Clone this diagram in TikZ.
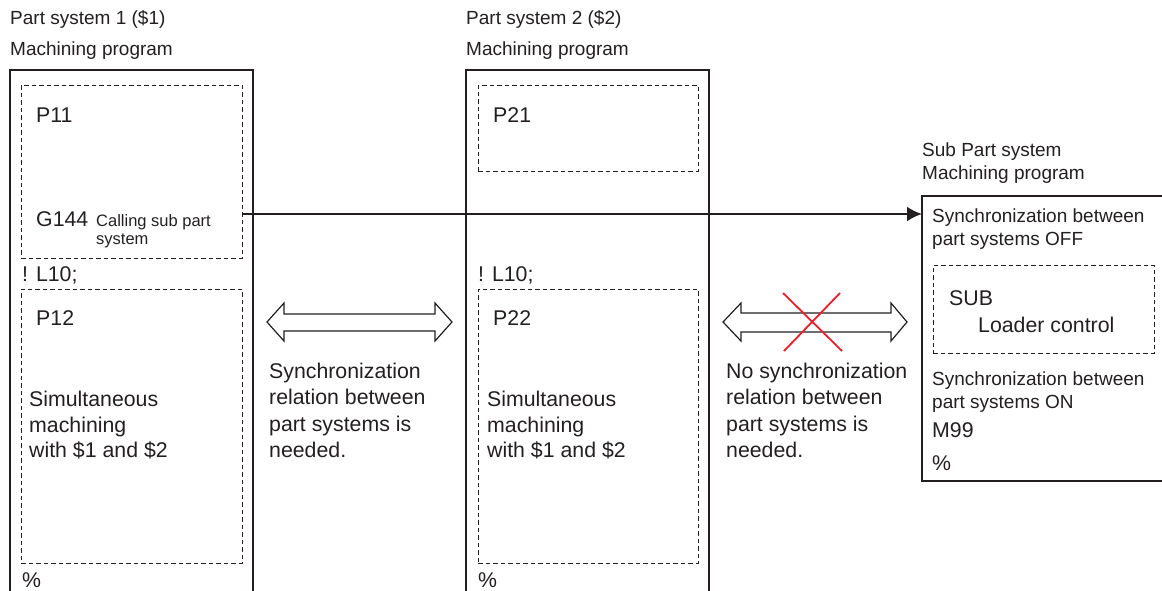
\documentclass[tikz,border=0pt]{standalone}
\usepackage{fontspec}
\setmainfont{Liberation Sans}
\definecolor{txtgray}{RGB}{35,31,32}
\definecolor{crossred}{RGB}{232,32,44}
\begin{document}
\begin{tikzpicture}[x=1pt,y=-1pt,
  prog/.style={draw=txtgray,line width=1.5pt},
  dbox/.style={draw=txtgray,line width=0.8pt,dash pattern=on 4.5pt off 3pt},
  lbl/.style={inner sep=0pt,text=txtgray,font=\fontsize{19}{22.5}\selectfont},
  txt/.style={inner sep=0pt,text=txtgray,font=\fontsize{21.3}{25.5}\selectfont},
  sml/.style={inner sep=0pt,text=txtgray,font=\fontsize{16.5}{18}\selectfont},
  dblarrow/.style={draw=txtgray,line width=1.2pt,fill=white},
  cross/.style={draw=crossred,line width=1.8pt},
  callarrow/.style={draw=txtgray,line width=2.4pt,-{Latex[length=15pt,width=15pt]}}
]
\useasboundingbox (0,0) rectangle (1162,590);
\usetikzlibrary{arrows.meta}

% ---------- headers ----------
\node[lbl,anchor=base west] (h1a) at (10,24) {Part system 1 (\$1)};
\node[lbl,anchor=base west] (h1b) at (10,55.5) {Machining program};
\node[lbl,anchor=base west] (h2a) at (466,24) {Part system 2 (\$2)};
\node[lbl,anchor=base west] (h2b) at (466,55.5) {Machining program};
\node[lbl,anchor=north west,align=left] (h3) at (922,143) {Sub Part system\\Machining program};

% ---------- program frames ----------
\draw[prog] (10,592) -- (10,70) -- (253,70) -- (253,592);
\draw[prog] (466,592) -- (466,70) -- (709,70) -- (709,592);
\draw[prog] (1164,196) -- (922,196) -- (922,481) -- (1164,481);

% ---------- part system 1 ----------
\node[dbox,minimum width=221pt,minimum height=173pt,anchor=north west,inner sep=0pt] (p11box) at (21,85) {};
\node[txt,anchor=base west] (p11) at (36,122) {P11};
\node[txt,anchor=base west] (g144) at (36,226) {G144};
\node[sml,anchor=north west,align=left] (call) at (96,214) {Calling sub part\\system};
\node[txt,anchor=base west] (l10a) at (22,281) {! L10;};
\node[dbox,minimum width=221pt,minimum height=274pt,anchor=north west,inner sep=0pt] (p12box) at (21,289) {};
\node[txt,anchor=base west] (p12) at (36,325) {P12};
\node[txt,anchor=north west,align=left] (sim1) at (29,391) {Simultaneous\\machining\\with \$1 and \$2};
\node[txt,anchor=base west] (end1) at (22,587) {\%};

% ---------- part system 2 ----------
\node[dbox,minimum width=220pt,minimum height=86pt,anchor=north west,inner sep=0pt] (p21box) at (478,85) {};
\node[txt,anchor=base west] (p21) at (493,122) {P21};
\node[txt,anchor=base west] (l10b) at (478,281) {! L10;};
\node[dbox,minimum width=220pt,minimum height=274pt,anchor=north west,inner sep=0pt] (p22box) at (478,289) {};
\node[txt,anchor=base west] (p22) at (493,325) {P22};
\node[txt,anchor=north west,align=left] (sim2) at (487,391) {Simultaneous\\machining\\with \$1 and \$2};
\node[txt,anchor=base west] (end2) at (478,587) {\%};

% ---------- sub part system ----------
\node[lbl,anchor=north west,align=left] (soff) at (932,209) {Synchronization between\\part systems OFF};
\node[dbox,minimum width=221pt,minimum height=88pt,anchor=north west,inner sep=0pt] (subbox) at (933,265) {};
\node[txt,anchor=base west] (sub) at (949,305) {SUB};
\node[txt,anchor=base west] (loader) at (978,332) {Loader control};
\node[lbl,anchor=north west,align=left] (son) at (932,372) {Synchronization between\\part systems ON};
\node[txt,anchor=base west] (m99) at (932,437) {M99};
\node[txt,anchor=base west] (end3) at (932,470) {\%};

% ---------- call arrow ----------
\coordinate (callstart) at (p11box.east |- 0,214);
\coordinate (callend) at (922,214);
\draw[callarrow] (callstart) -- (callend);

% ---------- double arrows ----------
\draw[dblarrow] (267,322) -- (284,303) -- (284,314) -- (435,314) -- (435,303) -- (452,322)
  -- (435,341) -- (435,331) -- (284,331) -- (284,341) -- cycle;
\node[txt,anchor=north west,align=left,font=\fontsize{21.3}{26.3}\selectfont] (syncyes) at (269,363) {Synchronization\\relation between\\part systems is\\needed.};

\draw[dblarrow] (723,322) -- (741,303) -- (741,313) -- (891,313) -- (891,303) -- (907,322)
  -- (891,341) -- (891,332) -- (741,332) -- (741,341) -- cycle;
\draw[cross] (783,293) -- (842,351);
\draw[cross] (840,293) -- (784,351);
\node[txt,anchor=north west,align=left,font=\fontsize{21.3}{26.3}\selectfont] (syncno) at (726,363) {No synchronization\\relation between\\part systems is\\needed.};
\end{tikzpicture}
\end{document}
